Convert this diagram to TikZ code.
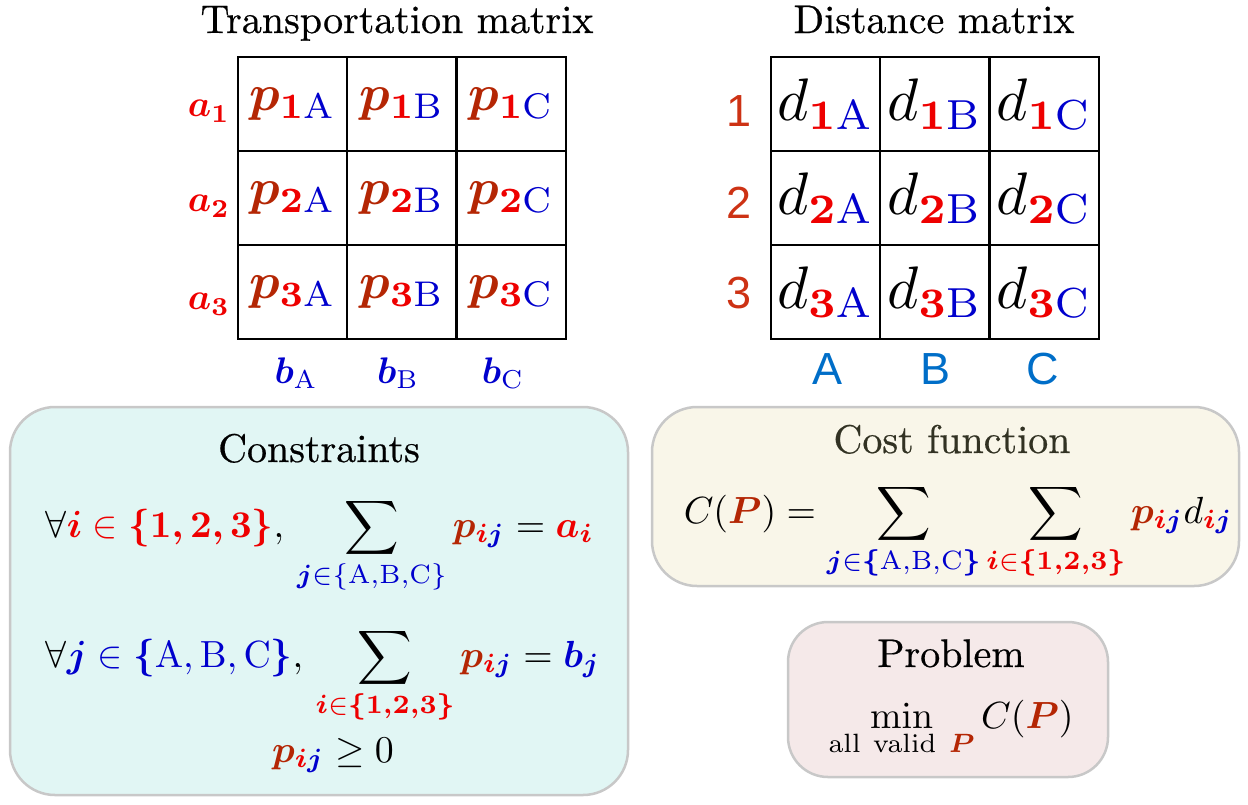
\documentclass[tikz,border=0pt]{standalone}
\usepackage{amsmath}
\usepackage{bm}
\usepackage[no-math]{fontspec}
\newfontfamily\helvfont{Liberation Sans}
\newfontfamily\headfont{Latin Modern Roman}[FakeBold=0.5]
\usepackage{tikz}
\usetikzlibrary{positioning}

\definecolor{pbrown}{RGB}{180,38,4}
\definecolor{ired}{RGB}{238,0,0}
\definecolor{jblue}{RGB}{0,0,205}
\definecolor{rowred}{RGB}{205,50,20}
\definecolor{colblue}{RGB}{0,110,200}
\definecolor{constrfill}{RGB}{225,246,244}
\definecolor{costfill}{RGB}{249,246,233}
\definecolor{probfill}{RGB}{245,233,233}
\definecolor{panelgray}{RGB}{200,200,200}
\definecolor{costtext}{RGB}{50,50,35}

\newcommand{\pP}{\textcolor{pbrown}{\bm{p}}}
\newcommand{\bigP}{\textcolor{pbrown}{\bm{P}}}
\newcommand{\iR}{\textcolor{ired}{\bm{i}}}
\newcommand{\jB}{\textcolor{jblue}{\bm{j}}}
\newcommand{\inR}{\mathrel{\textcolor{ired}{\in}}}
\newcommand{\inB}{\mathrel{\textcolor{jblue}{\in}}}
\newcommand{\rowR}[1]{\textcolor{ired}{\mathbf{#1}}}
\newcommand{\colB}[1]{\textcolor{jblue}{\mathrm{#1}}}

\begin{document}
\begin{tikzpicture}[x=1pt,y=1pt,yscale=-1,xscale=1,
  cellbox/.style={draw, line width=2.2pt, inner sep=0pt},
  pentry/.style={cellbox, scale=5.1, minimum width=21.43pt, minimum height=18.43pt},
  dentry/.style={cellbox, scale=6, minimum width=18.22pt, minimum height=15.67pt},
  heading/.style={anchor=base, inner sep=0pt, scale=4, font=\headfont},
  formula/.style={inner sep=0pt, scale=3.78},
  sidelabel/.style={inner sep=0pt, scale=3.7},
  helvlabel/.style={inner sep=0pt, scale=4.5, font=\helvfont},
  panel/.style={draw=panelgray, line width=2.5pt, rounded corners=45pt, inner sep=0pt}]
\useasboundingbox (0,0) rectangle (1248,804);

%Shape: Rounded Rect
\draw (319,601) node [panel, fill=constrfill, minimum width=618pt, minimum height=388pt] (constr) {};
%Shape: Rounded Rect
\draw (945.5,496.5) node [panel, fill=costfill, minimum width=587pt, minimum height=179pt] (cost) {};
%Shape: Rounded Rect
\draw (948,699.5) node [panel, fill=probfill, minimum width=320pt, minimum height=155pt, rounded corners=40pt] (prob) {};

% Text Node
\draw (397,33) node [heading] (ttitle) {Transportation matrix};
% Text Node
\draw (934,33) node [heading] (dtitle) {Distance matrix};

%Transportation matrix cells
\draw (292.5,104) node [pentry] (p1A) {$\pP_{\rowR{1}\colB{A}}$};
\draw (401.8,104) node [pentry] (p1B) {$\pP_{\rowR{1}\colB{B}}$};
\draw (511.1,104) node [pentry] (p1C) {$\pP_{\rowR{1}\colB{C}}$};
\draw (292.5,198) node [pentry] (p2A) {$\pP_{\rowR{2}\colB{A}}$};
\draw (401.8,198) node [pentry] (p2B) {$\pP_{\rowR{2}\colB{B}}$};
\draw (511.1,198) node [pentry] (p2C) {$\pP_{\rowR{2}\colB{C}}$};
\draw (292.5,292) node [pentry] (p3A) {$\pP_{\rowR{3}\colB{A}}$};
\draw (401.8,292) node [pentry] (p3B) {$\pP_{\rowR{3}\colB{B}}$};
\draw (511.1,292) node [pentry] (p3C) {$\pP_{\rowR{3}\colB{C}}$};

%Distance matrix cells
\draw (825.5,104) node [dentry] (d1A) {$d_{\rowR{1}\colB{A}}$};
\draw (934.8,104) node [dentry] (d1B) {$d_{\rowR{1}\colB{B}}$};
\draw (1044.1,104) node [dentry] (d1C) {$d_{\rowR{1}\colB{C}}$};
\draw (825.5,198) node [dentry] (d2A) {$d_{\rowR{2}\colB{A}}$};
\draw (934.8,198) node [dentry] (d2B) {$d_{\rowR{2}\colB{B}}$};
\draw (1044.1,198) node [dentry] (d2C) {$d_{\rowR{2}\colB{C}}$};
\draw (825.5,292) node [dentry] (d3A) {$d_{\rowR{3}\colB{A}}$};
\draw (934.8,292) node [dentry] (d3B) {$d_{\rowR{3}\colB{B}}$};
\draw (1044.1,292) node [dentry] (d3C) {$d_{\rowR{3}\colB{C}}$};

% Text Node
\draw (209,111) node [sidelabel] (a1) {$\textcolor{ired}{\bm{a}_{\mathbf{1}}}$};
\draw (209,206) node [sidelabel] (a2) {$\textcolor{ired}{\bm{a}_{\mathbf{2}}}$};
\draw (209,304) node [sidelabel] (a3) {$\textcolor{ired}{\bm{a}_{\mathbf{3}}}$};
% Text Node
\draw (296,373) node [sidelabel] (bA) {$\textcolor{jblue}{\bm{b}_{\mathrm{A}}}$};
\draw (398,373) node [sidelabel] (bB) {$\textcolor{jblue}{\bm{b}_{\mathrm{B}}}$};
\draw (503,373) node [sidelabel] (bC) {$\textcolor{jblue}{\bm{b}_{\mathrm{C}}}$};
% Text Node
\draw (739,111) node [helvlabel, text=rowred] (r1) {1};
\draw (739,203) node [helvlabel, text=rowred] (r2) {2};
\draw (739,293) node [helvlabel, text=rowred] (r3) {3};
% Text Node
\draw (827,369) node [helvlabel, text=colblue] (cA) {A};
\draw (935,369) node [helvlabel, text=colblue] (cB) {B};
\draw (1043,369) node [helvlabel, text=colblue] (cC) {C};

% Text Node
\draw (319,462) node [heading] (ctitle) {Constraints};
% Text Node
\draw (45,537) node [formula, anchor=base west] (rowsum) {$\forall \iR \inR \textcolor{ired}{\bm{\{1,2,3\}}},\, \displaystyle\sum_{\jB \inB \textcolor{jblue}{\{\mathrm{A,B,C}\}}} \pP_{\iR\jB} = \textcolor{ired}{\bm{a}_{\bm{i}}}$};
% Text Node
\draw (45,667) node [formula, anchor=base west] (colsum) {$\forall \jB \inB \textcolor{jblue}{\bm{\{}\mathrm{A},\mathrm{B},\mathrm{C}\bm{\}}},\, \displaystyle\sum_{\iR \inR \textcolor{ired}{\bm{\{1,2,3\}}}} \pP_{\iR\jB} = \textcolor{jblue}{\bm{b}_{\bm{j}}}$};
% Text Node
\draw (333,762) node [formula, anchor=base] (nonneg) {$\pP_{\iR\jB} \geq 0$};

% Text Node
\draw (952,453) node [heading, text=costtext] (costtitle) {Cost function};
% Text Node
\draw (683,523) node [formula, anchor=base west] (costeq) {$C(\bigP) = \displaystyle\sum_{\jB \inB \textcolor{jblue}{\bm{\{}\mathrm{A,B,C}\bm{\}}}} \sum_{\iR \inR \textcolor{ired}{\bm{\{1,2,3\}}}} \pP_{\iR\jB} d_{\iR\jB}$};

% Text Node
\draw (951,667) node [heading] (probtitle) {Problem};
% Text Node
\draw (951,728) node [formula, anchor=base] (probeq) {$\displaystyle\min_{\mathrm{all\ valid}\ \bigP} C(\bigP)$};
\end{tikzpicture}
\end{document}
